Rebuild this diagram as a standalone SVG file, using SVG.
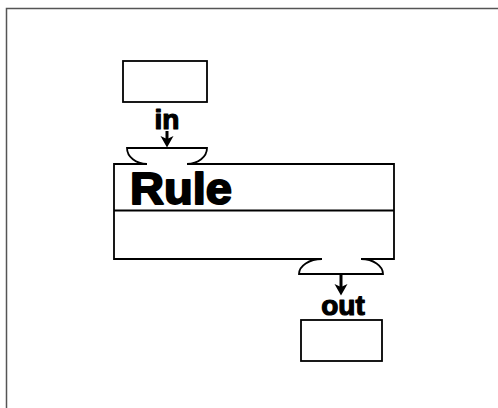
<svg xmlns="http://www.w3.org/2000/svg" width="498" height="408" viewBox="0 0 498 408">
<style>
.frame{fill:none;stroke:#555;stroke-width:1.5}
.box{fill:#fff;stroke:#000;stroke-width:1.8}
.ln{fill:none;stroke:#000;stroke-width:1.8}
.lbl{font-family:"Liberation Sans",Arial,sans-serif;font-weight:bold;fill:#000;stroke:#000;stroke-linejoin:round}
.shaft{stroke:#000;stroke-width:3}
</style>
<rect width="498" height="408" fill="#fff"/>
<path class="frame" d="M6.5,408 V8.5 H498"/>
<g id="input-box">
<rect class="box" x="123" y="61" width="84" height="41"/>
</g>
<g id="rule">
<rect x="114" y="164" width="280" height="95" fill="#fff"/>
<path class="ln" d="M147,164 H114 V259 H322 M361,259 H394 V164 H187"/>
<line class="ln" x1="114" y1="210.5" x2="394" y2="210.5"/>
<text class="lbl" x="130" y="204" font-size="45" stroke-width="2" textLength="102" lengthAdjust="spacingAndGlyphs">Rule</text>
</g>
<g id="in-port">
<path class="ln" d="M147,164 A20,16 0 0 1 127,148 H207 A20,16 0 0 1 187,164"/>
</g>
<g id="out-port">
<path class="ln" d="M322,259 A23,15 0 0 0 299,274 H383 A22,15 0 0 0 361,259"/>
</g>
<g id="output-box">
<rect class="box" x="301" y="320" width="81" height="41"/>
</g>
<g id="connectors">
<text class="lbl" x="167" y="129" font-size="28" stroke-width="1.2" text-anchor="middle">in</text>
<line class="shaft" x1="167" y1="131" x2="167" y2="140"/>
<path d="M160.5,136 L167,139 L173.5,136 L167,147.5 Z" fill="#000"/>
<line class="shaft" x1="341" y1="275" x2="341" y2="287"/>
<path d="M334.5,284 L341,287 L347.5,284 L341,295.5 Z" fill="#000"/>
<text class="lbl" x="343" y="315" font-size="28" stroke-width="1.2" text-anchor="middle">out</text>
</g>
</svg>
